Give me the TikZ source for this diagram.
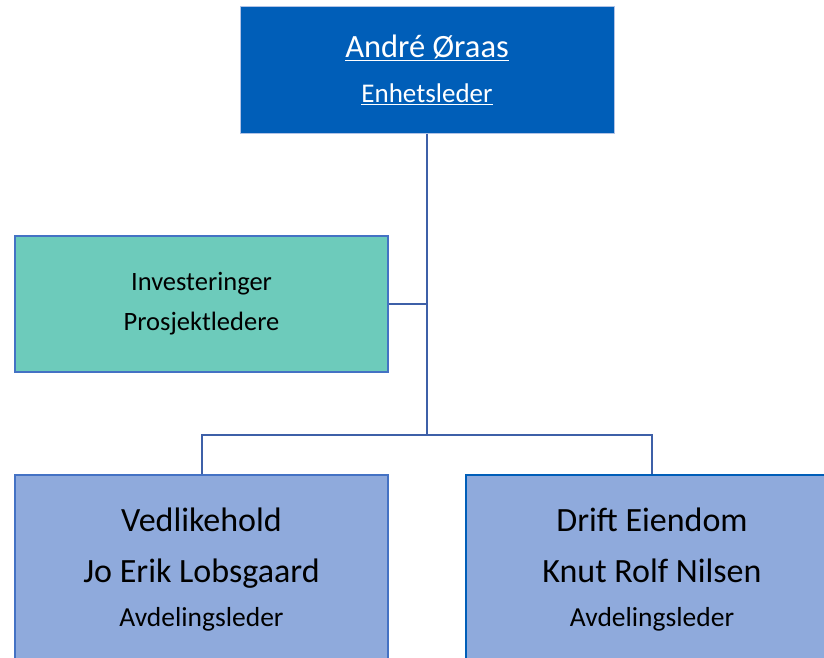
\documentclass[tikz,border=0pt]{standalone}
\usepackage{fontspec}
\setmainfont{Carlito}
\usepackage{tikz}
\usetikzlibrary{positioning}
\definecolor{chiefblue}{RGB}{0, 94, 184}
\definecolor{deptblue}{RGB}{143, 170, 220}
\definecolor{staffteal}{RGB}{109, 203, 187}
\definecolor{edgeblue}{RGB}{68, 114, 196}
\definecolor{linkblue}{RGB}{62, 96, 168}

\begin{document}
\begin{tikzpicture}[
    x = 1pt, y = -1pt,
    box/.style = {draw = edgeblue, line width = 2pt, align = center, inner sep = 0pt},
    chief/.style = {box, fill = chiefblue, draw = deptblue!70, line width = 1pt, text = white,
                    font = \fontsize{27}{45}\selectfont, minimum width = 374pt, minimum height = 127pt},
    staff/.style = {box, fill = staffteal, font = \fontsize{26.5}{40}\selectfont,
                    minimum width = 373pt, minimum height = 136pt},
    dept/.style = {box, fill = deptblue, font = \fontsize{27.5}{46}\selectfont,
                   minimum width = 373pt, minimum height = 190pt},
    link/.style = {draw = linkblue, line width = 2pt},
]

\useasboundingbox (0,0) rectangle (824,657);
\clip (0,0) rectangle (824,657);

\node[chief] (leder) at (427,69.5)
  {{\fontsize{32.5}{36}\selectfont\underline{André Øraas}}\\
   \underline{Enhetsleder}};

\node[staff] (invest) at (201.5,304)
  {Investeringer\\
   Prosjektledere};

\node[dept] (vedlikehold) at (201.5,570)
  {{\fontsize{34}{40}\selectfont Vedlikehold}\\[5pt]
   {\fontsize{34}{40}\selectfont Jo Erik Lobsgaard}\\[-2pt]
   Avdelingsleder};

\node[dept, draw = chiefblue] (drift) at (652,570)
  {{\fontsize{34}{40}\selectfont Drift Eiendom}\\[5pt]
   {\fontsize{34}{40}\selectfont Knut Rolf Nilsen}\\[-2pt]
   Avdelingsleder};

\coordinate (split) at (leder.south |- 0,435);

\draw[link] (leder.south) -- (split);
\draw[link] (invest.east) -- (invest.east -| leder.south);
\draw[link] (vedlikehold.north) -- (vedlikehold.north |- split) -- (drift.north |- split) -- (drift.north);

\end{tikzpicture}
\end{document}
